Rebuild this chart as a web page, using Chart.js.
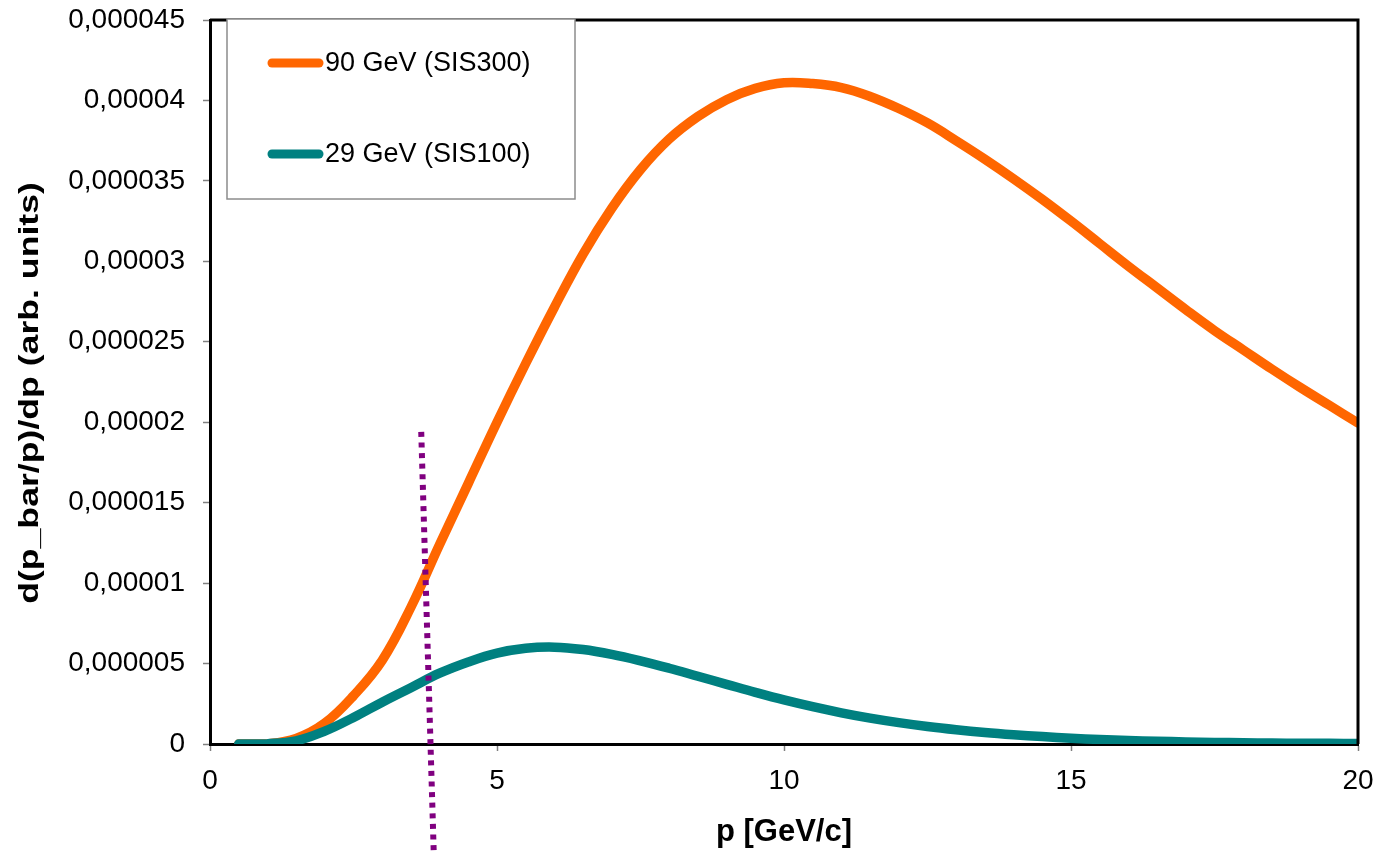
<!DOCTYPE html>
<html>
<head>
<meta charset="utf-8">
<script src="https://cdn.jsdelivr.net/npm/chart.js@4.4.0/dist/chart.umd.min.js"></script>
<style>
  html, body { margin: 0; padding: 0; background: #ffffff; }
  #c { display: block; }
</style>
</head>
<body>
<canvas id="c" width="1378" height="855"></canvas>
<script>
// ---- data ----
const momentum = [0.5, 1.0, 1.5, 2.0, 2.5, 3.0, 3.5, 4.0, 4.5, 5.0, 5.5, 6.0, 6.5, 7.0, 7.5, 8.0, 8.5, 9.0, 9.5, 10.0,
                  10.5, 11.0, 11.5, 12.0, 12.5, 13.0, 13.5, 14.0, 14.5, 15.0, 15.5, 16.0, 16.5, 17.0, 17.5, 18.0, 18.5, 19.0, 19.5, 20.0];
const sis300 = [0, 0.02e-6, 0.35e-6, 1.3e-6, 3.0e-6, 5.2e-6, 8.5e-6, 12.4e-6, 16.2e-6, 20.0e-6, 23.65e-6, 27.15e-6, 30.45e-6, 33.3e-6, 35.7e-6, 37.6e-6, 39.0e-6, 40.05e-6, 40.75e-6, 41.1e-6,
                41.05e-6, 40.8e-6, 40.25e-6, 39.5e-6, 38.6e-6, 37.5e-6, 36.35e-6, 35.13e-6, 33.85e-6, 32.5e-6, 31.1e-6, 29.7e-6, 28.35e-6, 27.0e-6, 25.7e-6, 24.5e-6, 23.3e-6, 22.15e-6, 21.05e-6, 19.95e-6];
const sis100 = [0, 0.02e-6, 0.2e-6, 0.8e-6, 1.65e-6, 2.6e-6, 3.5e-6, 4.4e-6, 5.1e-6, 5.65e-6, 5.95e-6, 6.02e-6, 5.87e-6, 5.57e-6, 5.17e-6, 4.71e-6, 4.21e-6, 3.71e-6, 3.21e-6, 2.74e-6,
                2.32e-6, 1.94e-6, 1.61e-6, 1.33e-6, 1.09e-6, 0.89e-6, 0.72e-6, 0.58e-6, 0.46e-6, 0.36e-6, 0.28e-6, 0.22e-6, 0.17e-6, 0.13e-6, 0.1e-6, 0.08e-6, 0.06e-6, 0.05e-6, 0.04e-6, 0.03e-6];
const cutX = [3.68, 3.90];
const cutY = [19.4e-6, -7.0e-6];
const seriesLabels = ['90 GeV (SIS300)', '29 GeV (SIS100)'];
const xTickValues = [0, 5, 10, 15, 20];
const xTickLabels = ['0', '5', '10', '15', '20'];
const yTickValues = [0, 5e-6, 10e-6, 15e-6, 20e-6, 25e-6, 30e-6, 35e-6, 40e-6, 45e-6];
const yTickLabels = ['0', '0,000005', '0,00001', '0,000015', '0,00002', '0,000025', '0,00003', '0,000035', '0,00004', '0,000045'];
const xTitle = 'p [GeV/c]';
const yTitle = 'd(p_bar/p)/dp (arb. units)';

// ---- styles ----
const FONT = "'Liberation Sans', Arial, Helvetica, sans-serif";
const ORANGE = '#ff6600';
const TEAL = '#008080';
const PURPLE = '#800080';

const toPoints = (xs, ys) => xs.map((x, i) => ({ x: x, y: ys[i] }));

const framePlugin = {
  id: 'frame',
  afterDraw(chart) {
    const { ctx, chartArea: a } = chart;
    ctx.save();
    ctx.strokeStyle = '#000';
    ctx.lineWidth = 3;
    ctx.beginPath();
    ctx.moveTo(a.left, a.top);
    ctx.lineTo(a.right, a.top);
    ctx.lineTo(a.right, a.bottom);
    ctx.stroke();
    ctx.restore();
  }
};

// y-axis title drawn stretched along its length, as in the reference
const yTitlePlugin = {
  id: 'yTitle',
  afterDraw(chart) {
    const { ctx, chartArea: a } = chart;
    ctx.save();
    ctx.translate(31, (a.top + a.bottom) / 2 + 11);
    ctx.rotate(-Math.PI / 2);
    ctx.scale(1.32, 1);
    ctx.fillStyle = '#000';
    ctx.font = 'bold 27px ' + FONT;
    ctx.textAlign = 'center';
    ctx.textBaseline = 'middle';
    ctx.fillText(yTitle, 0, 0);
    ctx.restore();
  }
};

const boxLegendPlugin = {
  id: 'boxLegend',
  afterDraw(chart) {
    const { ctx, chartArea: a } = chart;
    const bx = a.left + 17, by = a.top - 1, bw = 348, bh = 180;
    ctx.save();
    ctx.fillStyle = '#ffffff';
    ctx.fillRect(bx, by, bw, bh);
    ctx.strokeStyle = '#8c8c8c';
    ctx.lineWidth = 1.5;
    ctx.strokeRect(bx, by, bw, bh);
    const items = chart.data.datasets.filter(d => d.label);
    const rowY = [by + 44, by + 135];
    items.forEach((d, i) => {
      const y = rowY[i];
      ctx.strokeStyle = d.borderColor;
      ctx.lineWidth = 9;
      ctx.lineCap = 'round';
      ctx.beginPath();
      ctx.moveTo(bx + 45, y);
      ctx.lineTo(bx + 92, y);
      ctx.stroke();
      ctx.fillStyle = '#000';
      ctx.font = '27px ' + FONT;
      ctx.textBaseline = 'middle';
      ctx.textAlign = 'left';
      ctx.fillText(d.label, bx + 98, y + 1);
    });
    ctx.restore();
  }
};

new Chart(document.getElementById('c'), {
  type: 'line',
  data: {
    datasets: [
      {
        label: seriesLabels[0],
        data: toPoints(momentum, sis300),
        borderColor: ORANGE,
        backgroundColor: ORANGE,
        borderWidth: 9.5,
        borderCapStyle: 'round',
        borderJoinStyle: 'round',
        pointRadius: 0,
        tension: 0.4,
        fill: false,
        order: 3
      },
      {
        label: seriesLabels[1],
        data: toPoints(momentum, sis100),
        borderColor: TEAL,
        backgroundColor: TEAL,
        borderWidth: 9.5,
        borderCapStyle: 'round',
        borderJoinStyle: 'round',
        pointRadius: 0,
        tension: 0.4,
        fill: false,
        order: 2
      },
      {
        label: '',
        data: toPoints(cutX, cutY),
        borderColor: PURPLE,
        backgroundColor: PURPLE,
        borderWidth: 6,
        borderDash: [5, 5.6],
        borderCapStyle: 'butt',
        pointRadius: 0,
        tension: 0,
        fill: false,
        clip: false,
        order: 1
      }
    ]
  },
  options: {
    responsive: false,
    animation: false,
    devicePixelRatio: 1,
    layout: { padding: { left: 0, right: 20, top: 20, bottom: 0 } },
    plugins: {
      legend: { display: false },
      tooltip: { enabled: false },
      title: { display: false }
    },
    scales: {
      x: {
        type: 'linear',
        min: 0,
        max: 20,
        afterBuildTicks: s => { s.ticks = xTickValues.map(v => ({ value: v })); },
        afterFit: s => { s.height = 111; s.paddingLeft = 0; s.paddingRight = 0; },
        ticks: {
          callback: (v, i) => xTickLabels[i],
          color: '#000',
          font: { family: FONT, size: 28 },
          padding: 13,
          maxRotation: 0
        },
        grid: { drawOnChartArea: false, drawTicks: true, tickLength: 7, tickColor: '#808080', tickWidth: 1.5 },
        border: { display: true, color: '#000', width: 3 },
        title: {
          display: true,
          text: xTitle,
          color: '#000',
          font: { family: FONT, size: 31, weight: 'bold' },
          padding: { top: 0, bottom: 4 }
        }
      },
      y: {
        type: 'linear',
        min: 0,
        max: 45e-6,
        afterBuildTicks: s => { s.ticks = yTickValues.map(v => ({ value: v })); },
        afterFit: s => { s.width = 210; s.paddingTop = 0; s.paddingBottom = 0; },
        ticks: {
          callback: (v, i) => yTickLabels[i],
          color: '#000',
          font: { family: FONT, size: 28 },
          padding: 18
        },
        grid: { drawOnChartArea: false, drawTicks: true, tickLength: 7, tickColor: '#808080', tickWidth: 1.5 },
        border: { display: true, color: '#000', width: 3 },
        title: { display: false, text: yTitle }
      }
    }
  },
  plugins: [framePlugin, boxLegendPlugin, yTitlePlugin]
});
</script>
</body>
</html>
